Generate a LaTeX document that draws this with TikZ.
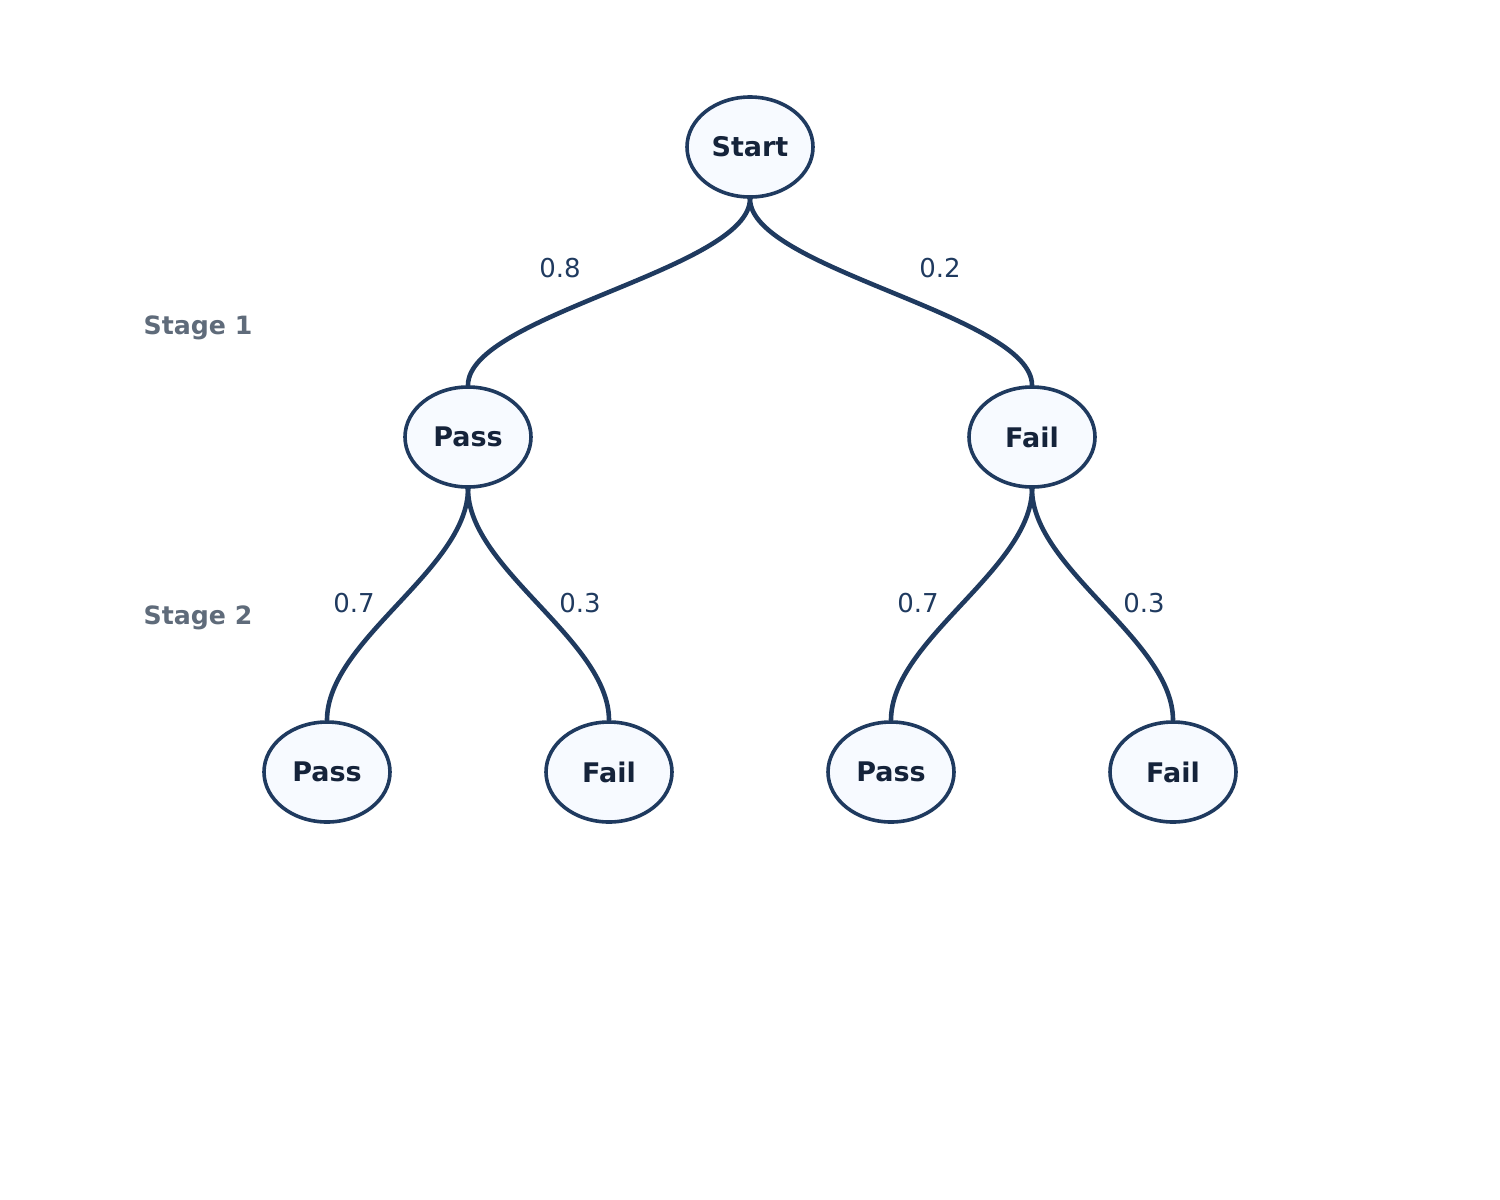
\documentclass[tikz,border=0pt]{standalone}
\usepackage{fontspec}
\setmainfont{DejaVu Sans}
\usetikzlibrary{shapes.geometric}
\definecolor{edgec}{HTML}{1F3A5F}
\definecolor{fillc}{HTML}{F7FAFF}
\definecolor{textc}{HTML}{15233A}
\definecolor{stagec}{HTML}{5F6B7A}
\definecolor{probc}{HTML}{1F3A5F}
\tikzset{
  outcome/.style={ellipse, draw=edgec, fill=fillc, line width=1.8pt,
    minimum width=63pt, minimum height=50pt, inner sep=0pt,
    font=\fontsize{13.5}{16}\selectfont\bfseries, text=textc},
  branch/.style={draw=edgec, line width=2.3pt},
  prob/.style={font=\fontsize{13}{15}\selectfont, text=probc},
  stagelbl/.style={font=\fontsize{12.6}{15}\selectfont\bfseries, text=stagec}
}
\begin{document}
\begin{tikzpicture}[x=0.5pt,y=-0.5pt]
\useasboundingbox (0,0) rectangle (1500,1200);
\node[outcome] (s) at (750,147) {Start};
\node[outcome] (p) at (468,437) {Pass};
\node[outcome] (f) at (1032,437) {Fail};
\node[outcome] (pp) at (327,772) {Pass};
\node[outcome] (pf) at (609,772) {Fail};
\node[outcome] (fp) at (891,772) {Pass};
\node[outcome] (ff) at (1173,772) {Fail};
\draw[branch] (s.south) .. controls +(0,70) and +(0,-70) .. (p.north);
\draw[branch] (s.south) .. controls +(0,70) and +(0,-70) .. (f.north);
\draw[branch] (p.south) .. controls +(0,80) and +(0,-80) .. (pp.north);
\draw[branch] (p.south) .. controls +(0,80) and +(0,-80) .. (pf.north);
\draw[branch] (f.south) .. controls +(0,80) and +(0,-80) .. (fp.north);
\draw[branch] (f.south) .. controls +(0,80) and +(0,-80) .. (ff.north);
\node[prob] (l1) at (560,268) {0.8};
\node[prob] (l2) at (940,268) {0.2};
\node[prob] (l3) at (354,603) {0.7};
\node[prob] (l4) at (580,603) {0.3};
\node[prob] (l5) at (918,603) {0.7};
\node[prob] (l6) at (1144,603) {0.3};
\node[stagelbl] (st1) at (198,328) {Stage 1};
\node[stagelbl] (st2) at (198,618) {Stage 2};
\end{tikzpicture}
\end{document}
